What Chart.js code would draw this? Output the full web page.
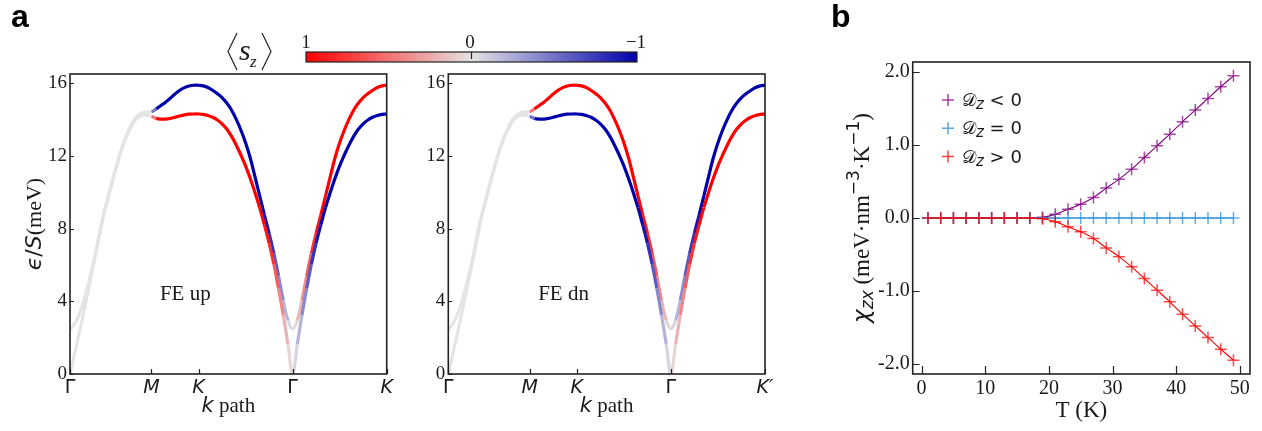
<!DOCTYPE html>
<html>
<head>
<meta charset="utf-8">
<script src="https://cdn.jsdelivr.net/npm/chart.js@4.4.1/dist/chart.umd.min.js"></script>
<style>
  body { margin: 0; background: #fff; width: 1262px; height: 431px; position: relative; overflow: hidden; }
  canvas { position: absolute; top: 0; }
</style>
</head>
<body>
<canvas id="bandUp" width="400" height="431" style="left:0"></canvas>
<canvas id="bandDn" width="400" height="431" style="left:400px"></canvas>
<canvas id="chiPlot" width="422" height="431" style="left:840px"></canvas>
<canvas id="deco" width="1262" height="431" style="left:0"></canvas>
<script>
// high-symmetry points along the k path
const kTicks = [0, 0.866, 1.366, 2.366, 3.366];
const kLabelsUp = ["Γ", "M", "K", "Γ", "K"];
const kLabelsDn = ["Γ", "M", "K", "Γ", "K′"];
const eTicks = [0, 4, 8, 12, 16];

// magnon bands  (Γ-M | M-K | K-Γ | Γ-K)
const kPath = [
  0, 0.05, 0.1, 0.15, 0.2, 0.25, 0.3, 0.35, 0.4, 0.45, 0.5, 0.55, 0.6, 0.65, 0.7, 0.75, 0.8, 0.866,
  0.916, 0.966, 1.016, 1.066, 1.116, 1.166, 1.216, 1.266, 1.316, 1.366,
  1.416, 1.466, 1.516, 1.566, 1.616, 1.666, 1.716, 1.766, 1.816, 1.866,
  1.916, 1.966, 2.016, 2.066, 2.116, 2.166, 2.216, 2.266, 2.316, 2.366,
  2.416, 2.466, 2.516, 2.566, 2.616, 2.666, 2.716, 2.766, 2.816, 2.866,
  2.916, 2.966, 3.016, 3.066, 3.116, 3.166, 3.216, 3.266, 3.316, 3.366
];
const bandUpper = [
  2.48, 2.75, 3.3, 4.1, 5.05, 6.15, 7.4, 8.63, 9.65, 10.63, 11.58, 12.43, 13.13, 13.7, 14.1, 14.32, 14.42, 14.42,
  14.58, 14.77, 14.95, 15.17, 15.4, 15.6, 15.75, 15.84, 15.88, 15.88,
  15.85, 15.76, 15.6, 15.42, 15.2, 14.9, 14.52, 14.02, 13.42, 12.72,
  11.88, 10.85, 9.8, 8.75, 7.75, 6.65, 5.4, 4.05, 2.95, 2.48,
  2.95, 4.05, 5.4, 6.65, 7.75, 8.75, 9.8, 10.85, 11.88, 12.72,
  13.42, 14.02, 14.52, 14.9, 15.2, 15.42, 15.6, 15.76, 15.85, 15.88
];
const bandLower = [
  0, 1.15, 2.3, 3.5, 4.75, 6.0, 7.3, 8.55, 9.57, 10.55, 11.5, 12.35, 13.05, 13.6, 14.0, 14.2, 14.25, 14.17,
  14.06, 14.02, 14.02, 14.06, 14.12, 14.19, 14.25, 14.29, 14.3, 14.3,
  14.28, 14.22, 14.12, 13.97, 13.76, 13.47, 13.08, 12.6, 12.05, 11.45,
  10.75, 9.98, 9.15, 8.2, 7.2, 6.05, 4.7, 3.25, 1.65, 0,
  1.65, 3.25, 4.7, 6.05, 7.2, 8.2, 9.15, 9.98, 10.75, 11.45,
  12.05, 12.6, 13.08, 13.47, 13.76, 13.97, 14.12, 14.22, 14.28, 14.3
];

// <s_z> along each band
const szUpperUp = [
  0, 0, 0, 0, 0, 0, 0, 0, 0, 0, 0, 0, 0, 0, 0, 0, 0, 0,
  -1, -1, -1, -1, -1, -1, -1, -1, -1, -1,
  -1, -1, -1, -1, -1, -1, -1, -1, -1, -1,
  -1, -1, -1, -0.95, -0.85, -0.7, -0.5, -0.3, -0.12, 0,
  0.12, 0.3, 0.5, 0.7, 0.85, 0.95, 1, 1, 1, 1,
  1, 1, 1, 1, 1, 1, 1, 1, 1, 1
];
const szLowerUp = [
  0, 0, 0, 0, 0, 0, 0, 0, 0, 0, 0, 0, 0, 0, 0, 0, 0, 0,
  1, 1, 1, 1, 1, 1, 1, 1, 1, 1,
  1, 1, 1, 1, 1, 1, 1, 1, 1, 1,
  1, 1, 1, 0.95, 0.85, 0.7, 0.5, 0.3, 0.12, 0,
  -0.12, -0.3, -0.5, -0.7, -0.85, -0.95, -1, -1, -1, -1,
  -1, -1, -1, -1, -1, -1, -1, -1, -1, -1
];
const szUpperDn = [
  0, 0, 0, 0, 0, 0, 0, 0, 0, 0, 0, 0, 0, 0, 0, 0, 0, 0,
  1, 1, 1, 1, 1, 1, 1, 1, 1, 1,
  1, 1, 1, 1, 1, 1, 1, 1, 1, 1,
  1, 1, 1, 0.95, 0.85, 0.7, 0.5, 0.3, 0.12, 0,
  -0.12, -0.3, -0.5, -0.7, -0.85, -0.95, -1, -1, -1, -1,
  -1, -1, -1, -1, -1, -1, -1, -1, -1, -1
];
const szLowerDn = [
  0, 0, 0, 0, 0, 0, 0, 0, 0, 0, 0, 0, 0, 0, 0, 0, 0, 0,
  -1, -1, -1, -1, -1, -1, -1, -1, -1, -1,
  -1, -1, -1, -1, -1, -1, -1, -1, -1, -1,
  -1, -1, -1, -0.95, -0.85, -0.7, -0.5, -0.3, -0.12, 0,
  0.12, 0.3, 0.5, 0.7, 0.85, 0.95, 1, 1, 1, 1,
  1, 1, 1, 1, 1, 1, 1, 1, 1, 1
];

// chi_zx vs temperature
const temps = [1, 3, 5, 7, 9, 11, 13, 15, 17, 19, 21, 23, 25, 27, 29, 31, 33, 35, 37, 39, 41, 43, 45, 47, 49];
const chiNeg = [0, 0, 0, 0, 0, 0, 0, 0, 0, 0.01, 0.05, 0.12, 0.19, 0.28, 0.41, 0.53, 0.67, 0.83, 0.99, 1.15, 1.32, 1.48, 1.64, 1.8, 1.95];
const chiZero = [0, 0, 0, 0, 0, 0, 0, 0, 0, 0, 0, 0, 0, 0, 0, 0, 0, 0, 0, 0, 0, 0, 0, 0, 0];
const chiPos = [0, 0, 0, 0, 0, 0, 0, 0, 0, -0.01, -0.05, -0.12, -0.19, -0.28, -0.41, -0.53, -0.67, -0.83, -0.99, -1.15, -1.32, -1.48, -1.64, -1.8, -1.95];
const tTicks = [0, 10, 20, 30, 40, 50];
const chiTicks = [-2, -1, 0, 1, 2];

const INK = "#1a1a1a";
const SERIF = "'Liberation Serif', 'Times New Roman', serif";
const SANS = "'DejaVu Sans', sans-serif";

const RED = [255, 0, 0], MID = [228, 228, 228], BLUE = [0, 0, 170];
function szColor(s) {
  const end = s >= 0 ? RED : BLUE;
  const t = Math.min(1, Math.abs(s));
  const c = MID.map((m, i) => Math.round(m + (end[i] - m) * t));
  return `rgb(${c[0]},${c[1]},${c[2]})`;
}

// text made of pieces in different fonts, centred on x; y is the baseline
function drawRich(ctx, parts, x, y, rot) {
  ctx.save();
  ctx.translate(x, y);
  if (rot) ctx.rotate(rot);
  ctx.textAlign = "left";
  ctx.textBaseline = "alphabetic";
  ctx.fillStyle = INK;
  let w = 0;
  parts.forEach(p => { ctx.font = p.f; p.w = ctx.measureText(p.t).width; w += p.w; });
  let cx = -w / 2;
  parts.forEach(p => { ctx.font = p.f; ctx.fillText(p.t, cx, p.dy || 0); cx += p.w; });
  ctx.restore();
}

// frame box + ticks pointing into the plot
function drawFrame(chart, xLen, yLen) {
  const { ctx, chartArea: a } = chart;
  const xs = chart.scales.x, ys = chart.scales.y;
  ctx.save();
  ctx.strokeStyle = "#222";
  ctx.lineWidth = 1.2;
  ctx.beginPath();
  xs.ticks.forEach(t => {
    const px = Math.round(xs.getPixelForValue(t.value)) + 0.5;
    ctx.moveTo(px, a.bottom); ctx.lineTo(px, a.bottom - xLen);
  });
  ys.ticks.forEach(t => {
    const py = Math.round(ys.getPixelForValue(t.value)) + 0.5;
    ctx.moveTo(a.left, py); ctx.lineTo(a.left + yLen, py);
  });
  ctx.stroke();
  ctx.lineWidth = 1.6;
  ctx.strokeRect(a.left, a.top, a.right - a.left, a.bottom - a.top);
  ctx.restore();
}

const noGrid = { display: false, drawTicks: false };

function bandChart(id, szU, szL, labels, yWidth, padRight, tag, withTitle) {
  const pts = vals => kPath.map((k, i) => ({ x: k, y: vals[i] }));
  const ds = (vals, sz) => ({
    data: pts(vals),
    borderWidth: 3.2,
    pointRadius: 0,
    tension: 0.4,
    borderColor: szColor(0),
    segment: { borderColor: c => szColor((sz[c.p0DataIndex] + sz[c.p1DataIndex]) / 2) }
  });
  const decor = {
    id: "decor",
    afterDraw(chart) {
      drawFrame(chart, 5, 4);
      const { ctx, chartArea: a } = chart;
      const xs = chart.scales.x, ys = chart.scales.y;
      // panel tag inside the plot
      ctx.save();
      ctx.font = "21px " + SERIF;
      ctx.fillStyle = INK;
      ctx.textAlign = "center";
      ctx.fillText(tag, xs.getPixelForValue(1.225), ys.getPixelForValue(4.07));
      ctx.restore();
      const cx = (a.left + a.right) / 2;
      drawRich(ctx, [
        { t: "k", f: "italic 21px " + SANS },
        { t: " path", f: "21px " + SERIF }
      ], cx, 412);
      if (withTitle) {
        drawRich(ctx, [
          { t: "ϵ", f: "italic 22px " + SANS },
          { t: "/", f: "22px " + SANS },
          { t: "S", f: "italic 22px " + SANS },
          { t: "(meV)", f: "22px " + SERIF }
        ], 41, (a.top + a.bottom) / 2, -Math.PI / 2);
      }
    }
  };
  return new Chart(document.getElementById(id), {
    type: "line",
    data: { datasets: [ds(bandLower, szL), ds(bandUpper, szU)] },
    options: {
      responsive: false,
      animation: false,
      layout: { padding: { left: 0, top: 74, right: padRight, bottom: 0 } },
      plugins: { legend: { display: false }, tooltip: { enabled: false } },
      scales: {
        x: {
          type: "linear", min: 0, max: 3.366,
          afterBuildTicks: s => { s.ticks = kTicks.map(v => ({ value: v })); },
          afterFit: s => { s.height = 57; },
          grid: noGrid, border: { display: false },
          ticks: {
            autoSkip: false, maxRotation: 0, padding: 3, color: INK,
            callback: (v, i) => labels[i],
            font: c => ({ family: SANS, size: 19, style: labels[c.index] === "Γ" ? "normal" : "italic" })
          }
        },
        y: {
          min: 0, max: 16.5,
          afterBuildTicks: s => { s.ticks = eTicks.map(v => ({ value: v })); },
          afterFit: s => { s.width = yWidth; },
          grid: noGrid, border: { display: false },
          ticks: { padding: 3, color: INK, font: { family: SERIF, size: 19 } }
        }
      }
    },
    plugins: [decor]
  });
}

bandChart("bandUp", szUpperUp, szLowerUp, kLabelsUp, 70, 13.3, "FE up", true);
bandChart("bandDn", szUpperDn, szLowerDn, kLabelsDn, 48.3, 35, "FE dn", false);

// panel b
const series = [
  { data: chiNeg, color: [128, 0, 128], label: "<", order: 2 },
  { data: chiZero, color: [31, 138, 216], label: "=", order: 1 },
  { data: chiPos, color: [255, 0, 0], label: ">", order: 0 }
];
const rgba = (c, a) => `rgba(${c[0]},${c[1]},${c[2]},${a})`;

new Chart(document.getElementById("chiPlot"), {
  type: "line",
  data: {
    datasets: series.map(s => ({
      data: temps.map((t, i) => ({ x: t, y: s.data[i] })),
      order: s.order,
      borderColor: rgba(s.color, 1),
      borderWidth: 1.1,
      pointStyle: "cross",
      pointRadius: 6,
      pointBorderWidth: 1.5,
      pointBorderColor: rgba(s.color, 0.7),
      tension: 0.2
    }))
  },
  options: {
    responsive: false,
    animation: false,
    layout: { padding: { left: 0, top: 62, right: 12, bottom: 0 } },
    plugins: { legend: { display: false }, tooltip: { enabled: false } },
    scales: {
      x: {
        type: "linear", min: -1.4, max: 51.6,
        afterBuildTicks: s => { s.ticks = tTicks.map(v => ({ value: v })); },
        afterFit: s => { s.height = 57; },
        grid: noGrid, border: { display: false },
        ticks: { autoSkip: false, maxRotation: 0, padding: 3, color: INK, font: { family: SERIF, size: 20 } }
      },
      y: {
        min: -2.14, max: 2.14,
        afterBuildTicks: s => { s.ticks = chiTicks.map(v => ({ value: v })); },
        afterFit: s => { s.width = 72.7; },
        grid: noGrid, border: { display: false },
        ticks: { padding: 3, color: INK, font: { family: SERIF, size: 20 }, callback: v => v.toFixed(1) }
      }
    }
  },
  plugins: [{
    id: "decor",
    afterDraw(chart) {
      drawFrame(chart, 8, 7);
      const { ctx, chartArea: a } = chart;
      drawRich(ctx, [{ t: "T (K)", f: "23px " + SERIF }], (a.left + a.right) / 2, 417);
      drawRich(ctx, [
        { t: "χ", f: "italic 23px " + SANS },
        { t: "zx", f: "italic 17px " + SANS, dy: 4 },
        { t: " (meV·nm", f: "23px " + SERIF },
        { t: "−3", f: "17px " + SANS, dy: -10 },
        { t: "·K", f: "23px " + SERIF },
        { t: "−1", f: "17px " + SANS, dy: -10 },
        { t: ")", f: "23px " + SERIF }
      ], 29, (a.top + a.bottom) / 2, -Math.PI / 2);
      // legend
      series.forEach((s, i) => {
        const mx = 108, my = 100 + i * 28.3;
        ctx.save();
        ctx.strokeStyle = rgba(s.color, 0.75);
        ctx.lineWidth = 1.5;
        ctx.beginPath();
        ctx.moveTo(mx - 6, my); ctx.lineTo(mx + 6, my);
        ctx.moveTo(mx, my - 6); ctx.lineTo(mx, my + 6);
        ctx.stroke();
        ctx.restore();
        ctx.save();
        ctx.fillStyle = INK;
        ctx.textBaseline = "alphabetic";
        let x = 122;
        const put = (t, f, dy) => { ctx.font = f; ctx.fillText(t, x, my + 6 + dy); x += ctx.measureText(t).width; };
        put("𝒟", "18px " + SANS, 0);
        put("z", "italic 15px " + SANS, 3);
        put(" " + s.label + " 0", "18px " + SANS, 0);
        ctx.restore();
      });
    }
  }]
});

// panel letters, colour bar and its title
const dc = document.getElementById("deco").getContext("2d");
dc.fillStyle = "#000";
dc.font = "bold 32px 'Liberation Sans', Arial, sans-serif";
dc.fillText("a", 11, 27);
dc.fillText("b", 831, 27);

const grad = dc.createLinearGradient(306, 0, 637, 0);
grad.addColorStop(0, szColor(1));
grad.addColorStop(0.5, szColor(0));
grad.addColorStop(1, szColor(-1));
dc.fillStyle = grad;
dc.fillRect(306, 52, 331, 10);
dc.strokeStyle = "#222";
dc.lineWidth = 1.2;
dc.strokeRect(306, 52, 331, 10);
dc.beginPath();
dc.moveTo(471.5, 52); dc.lineTo(471.5, 59);
dc.stroke();

dc.fillStyle = INK;
dc.textAlign = "center";
dc.font = "19px " + SERIF;
dc.fillText("1", 306, 48);
dc.fillText("0", 470, 48);
dc.fillText("−1", 636, 48);

dc.lineWidth = 1.2;
dc.beginPath();
dc.moveTo(237, 33); dc.lineTo(228, 51.5); dc.lineTo(237, 70);
dc.moveTo(262, 33); dc.lineTo(271, 51.5); dc.lineTo(262, 70);
dc.stroke();
dc.textAlign = "left";
dc.font = "italic 30px " + SERIF;
dc.fillText("s", 239, 60);
dc.font = "italic 17px " + SERIF;
dc.fillText("z", 250, 67);
</script>
</body>
</html>
